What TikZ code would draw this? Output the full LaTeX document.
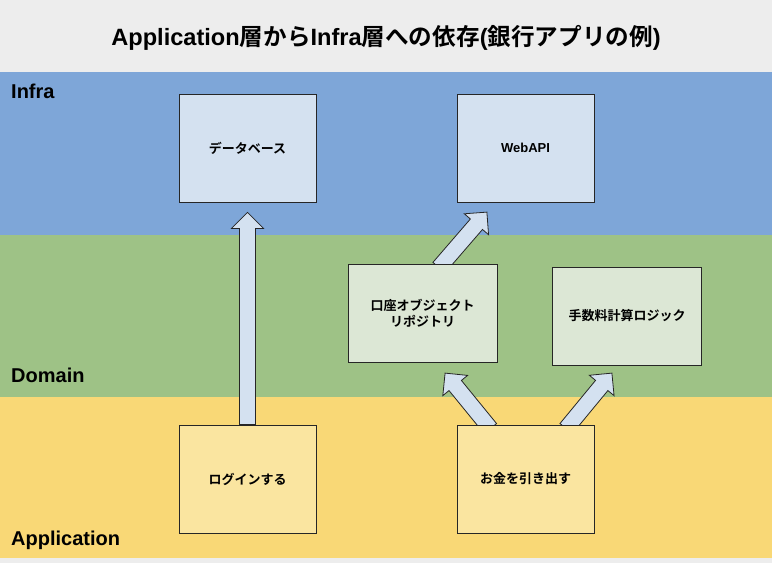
\documentclass[tikz,border=0pt]{standalone}
\usepackage{fontspec}
\setmainfont{Liberation Sans}
\newfontfamily\jp{Noto Sans CJK JP}[BoldFont={Noto Sans CJK JP Bold}]
\usetikzlibrary{calc,backgrounds}

\definecolor{titlebg}{RGB}{237,237,237}
\definecolor{infrabg}{RGB}{126,166,216}
\definecolor{domainbg}{RGB}{158,194,134}
\definecolor{appbg}{RGB}{249,216,118}
\definecolor{infrabox}{RGB}{212,225,240}
\definecolor{domainbox}{RGB}{220,231,213}
\definecolor{appbox}{RGB}{250,229,160}

\newcommand\jt[1]{{\jp #1}}
% block arrow from #1 to #2
\newcommand\blockarrow[2]{%
  \draw[blockarrow] let \p1=($(#2)-(#1)$), \n1={atan2(\y1,\x1)}, \n2={veclen(\x1,\y1)} in
    [shift={(#1)}, rotate=\n1]
    (0pt,-8pt) -- (\n2-16pt,-8pt) -- (\n2-16pt,-16pt) -- (\n2,0pt)
    -- (\n2-16pt,16pt) -- (\n2-16pt,8pt) -- (0pt,8pt) -- cycle;}

\begin{document}
\begin{tikzpicture}[x=1pt, y=-1pt,
  box/.style={draw=black!85, line width=0.8pt, font=\bfseries\fontsize{13}{16}\selectfont,
    align=center, minimum width=137pt, minimum height=108pt, inner sep=0pt},
  wide/.style={minimum width=149pt, minimum height=98pt},
  layer/.style={anchor=west, font=\bfseries\fontsize{20}{22}\selectfont, inner sep=0pt},
  blockarrow/.style={draw=black!85, line width=0.8pt, fill=infrabox, line join=miter}]
  \useasboundingbox (0,0) rectangle (772,563);

  % boxes
  \node[box, fill=infrabox] (db) at (247.5,148) {\jt{データベース}};
  \node[box, fill=infrabox] (webapi) at (525.5,148) {WebAPI};
  \node[box, wide, fill=domainbox] (repo) at (422.5,313) {\jt{口座オブジェクト}\\\jt{リポジトリ}};
  \node[box, wide, fill=domainbox] (fee) at (627,316) {\jt{手数料計算ロジック}};
  \node[box, fill=appbox] (login) at (247.5,479) {\jt{ログインする}};
  \node[box, fill=appbox] (cash) at (525.5,479) {\jt{お金を引き出す}};

  \node[font=\bfseries\fontsize{23.6}{26}\selectfont] (title) at (386,38)
    {Application\jt{層から}Infra\jt{層への依存}(\jt{銀行アプリの例})};
  \node[layer] (infra) at (11,91) {Infra};
  \node[layer] (domain) at (11,375) {Domain};
  \node[layer] (app) at (11,540) {Application};

  % dependencies, behind the boxes
  \coordinate (dbtip) at ($(db.south)+(0,10)$);
  \coordinate (webtip) at (487,212);
  \coordinate (repotip) at (445,373);
  \coordinate (feetip) at (612,373);
  \coordinate (repotail) at ($(repo.north west)!0.61!(repo.north east)+(0,4)$);
  \coordinate (cashtail1) at ($(cash.north west)!0.245!(cash.north east)+(0,4)$);
  \coordinate (cashtail2) at ($(cash.north west)!0.795!(cash.north east)+(0,4)$);

  \begin{scope}[on background layer]
    \fill[titlebg] (0,0) rectangle (772,563);
    \fill[infrabg] (0,72) rectangle (772,235);
    \fill[domainbg] (0,235) rectangle (772,397);
    \fill[appbg] (0,397) rectangle (772,558);
    \blockarrow{login.north}{dbtip}
    \blockarrow{repotail}{webtip}
    \blockarrow{cashtail1}{repotip}
    \blockarrow{cashtail2}{feetip}
  \end{scope}
\end{tikzpicture}
\end{document}
